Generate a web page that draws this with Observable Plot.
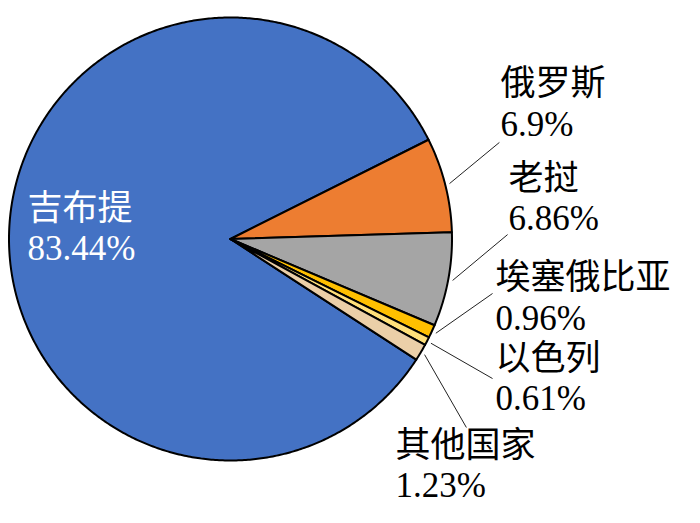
<!DOCTYPE html>
<html><head><meta charset="utf-8">
<script src="https://cdn.jsdelivr.net/npm/d3@7"></script>
<script src="https://cdn.jsdelivr.net/npm/@observablehq/plot@0.6"></script>
<style>body{margin:0;background:#fff}</style>
</head><body><div id="chart"></div>
<script>
// ---- data ----
const countries = ["吉布提", "俄罗斯", "老挝", "埃塞俄比亚", "以色列", "其他国家"];
const shares = [83.44, 6.9, 6.86, 0.96, 0.61, 1.23];
const colors = ["#4472C4", "#ED7D31", "#A5A5A5", "#FFC000", "#FFE07A", "#EBCFA8"];

// ---- layout (pie units, y up) ----
const firstSliceAngle = 123;            // degrees clockwise from 12 o'clock
const cx = 230, cy = 238.5, R = 221.5;  // pixel centre and radius
const labelPos = [[-0.916, 0.054], [1.219, 0.616], [1.255, 0.190], [1.196, -0.260], [1.196, -0.625], [0.745, -1.016]];
const leaderEnd = [null, [1.214, 0.436], [1.251, 0.020], [1.183, -0.246], [1.183, -0.630], [1.065, -0.851]];

const rad = Math.PI / 180;
const arcs = d3.pie().sort(null)
  .startAngle(firstSliceAngle * rad)
  .endAngle((firstSliceAngle + 360) * rad)(shares);

const slices = arcs.map((a, i) => {
  const pts = [{x: 0, y: 0}];
  const n = Math.max(2, Math.ceil((a.endAngle - a.startAngle) / rad * 2));
  for (let k = 0; k <= n; k++) {
    const t = a.startAngle + (a.endAngle - a.startAngle) * k / n;
    pts.push({x: Math.sin(t), y: Math.cos(t)});
  }
  pts.push({x: 0, y: 0});
  return {color: colors[i], pts};
});

const leaders = arcs.map((a, i) => {
  if (!leaderEnd[i]) return null;
  const m = (a.startAngle + a.endAngle) / 2;
  return {x1: 1.02 * Math.sin(m), y1: 1.02 * Math.cos(m), x2: leaderEnd[i][0], y2: leaderEnd[i][1]};
}).filter(d => d);

const labels = countries.map((c, i) => ({
  x: labelPos[i][0], y: labelPos[i][1],
  text: c + "\n" + shares[i] + "%",
  fill: i === 0 ? "white" : "black"
}));

const font = "'Liberation Serif', 'Noto Sans CJK SC', serif";

const chart = Plot.plot({
  width: 700, height: 523,
  margin: 0,
  style: {background: "white", fontFamily: font},
  x: {domain: [-1, 1], range: [cx - R, cx + R], axis: null},
  y: {domain: [-1, 1], range: [cy + R, cy - R], axis: null},
  color: {type: "identity"},
  marks: [
    ...slices.map(s => Plot.line(s.pts, {x: "x", y: "y", fill: s.color, stroke: "black", strokeWidth: 2, strokeLinejoin: "round"})),
    Plot.link(leaders, {x1: "x1", y1: "y1", x2: "x2", y2: "y2", stroke: "#222", strokeWidth: 1}),
    Plot.text(labels, {x: "x", y: "y", text: "text", fill: "fill", textAnchor: "start", lineAnchor: "middle", lineHeight: 1.15, fontSize: 35, fontFamily: font})
  ]
});
document.getElementById("chart").appendChild(chart);
</script>
</body></html>
